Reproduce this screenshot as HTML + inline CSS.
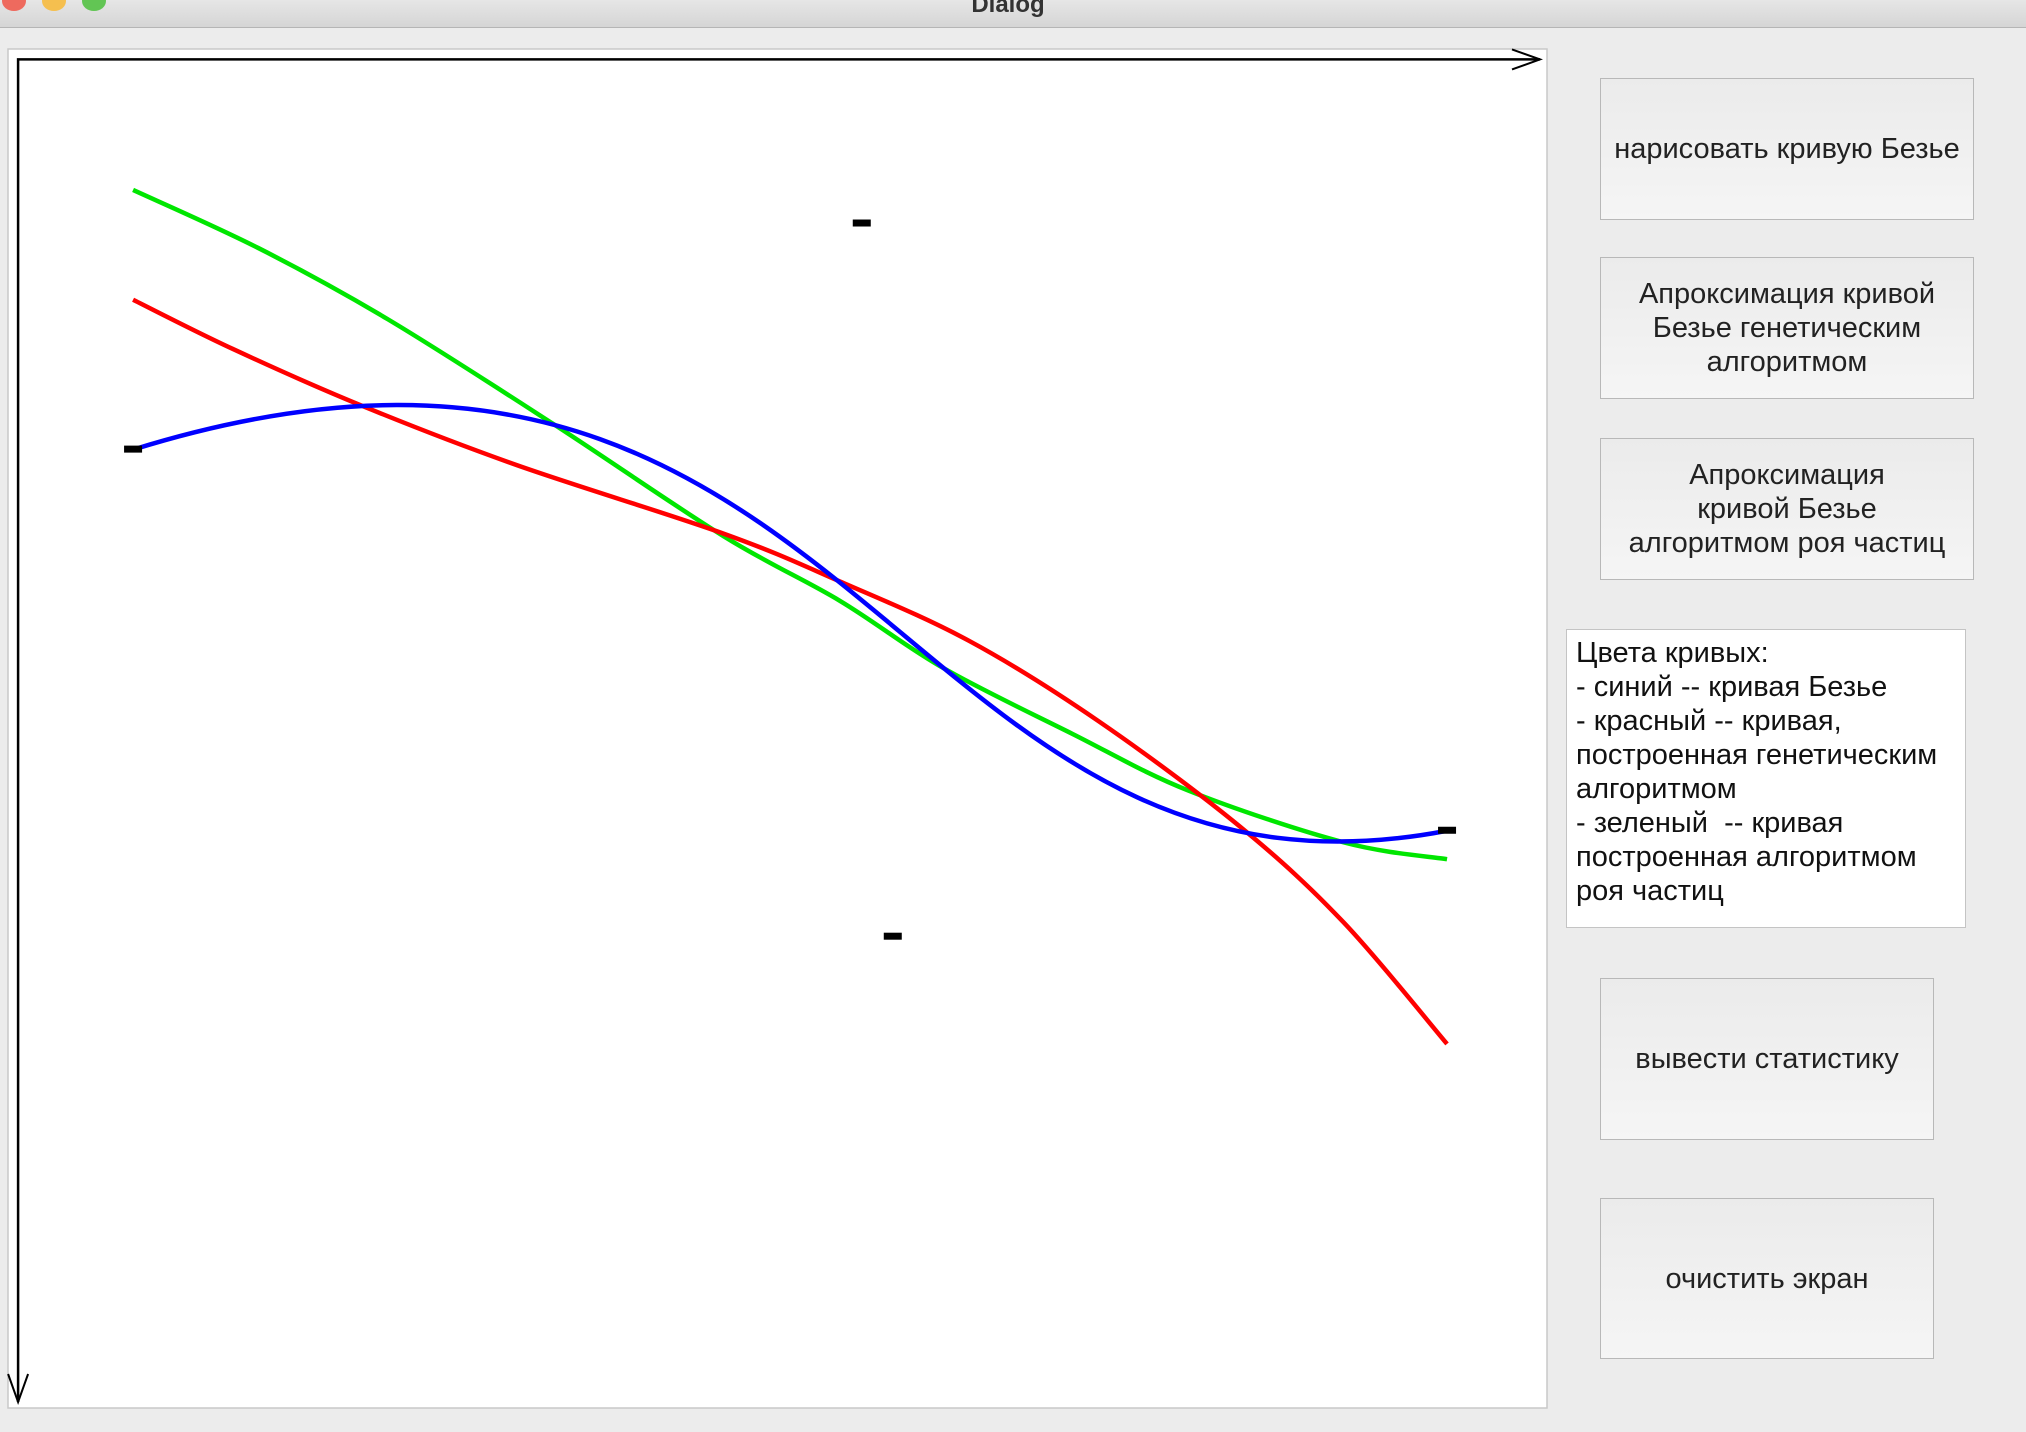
<!DOCTYPE html>
<html><head><meta charset="utf-8"><style>
body{margin:0;width:2026px;height:1432px;background:#ececec;position:relative;overflow:hidden;font-family:"Liberation Sans","DejaVu Sans",sans-serif}
.tb{position:absolute;left:0;top:0;width:2026px;height:27px;background:linear-gradient(#e6e6e6,#d5d5d5);border-bottom:1px solid #b5b5b5}
.tb .t{position:absolute;left:0;width:2016px;text-align:center;top:-9px;font-weight:bold;font-size:24px;color:#333}
.dot{position:absolute;top:-9px;width:24px;height:20px;border-radius:50%}
.btn{position:absolute;background:linear-gradient(#ebebeb,#f5f5f5);border:1px solid #b8b8b8;box-sizing:border-box;display:flex;align-items:center;justify-content:center;text-align:center;font-size:29px;line-height:34px;color:#222}
.info{position:absolute;left:1566px;top:629px;width:400px;height:299px;background:#fff;border:1px solid #c4c4c4;box-sizing:border-box;padding:6px 9px;font-size:29px;line-height:34px;color:#111;white-space:pre}
</style></head><body>
<div class="tb">
<div class="dot" style="left:2px;background:#ee6a5e"></div>
<div class="dot" style="left:42px;background:#f5bf4f"></div>
<div class="dot" style="left:82px;background:#62c554"></div>
<div class="t">Dialog</div></div>
<svg id="cv" style="position:absolute;left:0;top:0" width="1560" height="1432">
<rect x="8" y="49" width="1539" height="1359" fill="#fff" stroke="#c8c8c8" stroke-width="1.5"/>
<g id="g"></g>
</svg>
<div class="btn" style="left:1600px;top:78px;width:374px;height:142px">нарисовать кривую Безье</div>
<div class="btn" style="left:1600px;top:257px;width:374px;height:142px">Апроксимация кривой<br>Безье генетическим<br>алгоритмом</div>
<div class="btn" style="left:1600px;top:438px;width:374px;height:142px">Апроксимация<br>кривой Безье<br>алгоритмом роя частиц</div>
<div class="info">Цвета кривых:
- синий -- кривая Безье
- красный -- кривая,
построенная генетическим
алгоритмом
- зеленый  -- кривая
построенная алгоритмом
роя частиц</div>
<div class="btn" style="left:1600px;top:978px;width:334px;height:162px">вывести статистику</div>
<div class="btn" style="left:1600px;top:1198px;width:334px;height:161px">очистить экран</div>
<script>
const bezierX=[89,653,677,1106];
const bezierY=[302,127,679,597];
const redX=[89,166,266,386,546,636,736,836,946,1026,1106];
const redY=[186,224,268,314,367,404,450,512,594,668,762];
const greenX=[89,186,286,414,546,636,716,816,906,1026,1106];
const greenY=[101,146,201,282,369,419,471,522,566,606,619];
const S=1.292, OX=14, OY=46;
function sx(v){return (v+OX)*S;}
function sy(v){return (v+OY)*S;}
const NS='http://www.w3.org/2000/svg';
const g=document.getElementById('g');
function mk(t,a){const e=document.createElementNS(NS,t);for(const k in a)e.setAttribute(k,a[k]);g.appendChild(e);return e;}
const ax=mk('path',{d:`M${sx(0)},1402 L${sx(0)},${sy(0)} L1540,${sy(0)}`,fill:'none',stroke:'#000','stroke-width':2.5});


const ar1=mk('path',{d:`M1512,${sy(0)-10} L1540,${sy(0)} L1512,${sy(0)+10}`,fill:'none',stroke:'#000','stroke-width':2});


const ar2=mk('path',{d:`M${sx(0)-10},1374 L${sx(0)},1402 L${sx(0)+10},1374`,fill:'none',stroke:'#000','stroke-width':2});


function smooth(xs,ys,col,name){
  const P=xs.map((x,i)=>[sx(x),sy(ys[i])]);
  let d=`M${P[0][0]},${P[0][1]}`;
  for(let i=0;i<P.length-1;i++){
    const p0=P[Math.max(0,i-1)],p1=P[i],p2=P[i+1],p3=P[Math.min(P.length-1,i+2)];
    const c1=[p1[0]+(p2[0]-p0[0])/6,p1[1]+(p2[1]-p0[1])/6];
    const c2=[p2[0]-(p3[0]-p1[0])/6,p2[1]-(p3[1]-p1[1])/6];
    d+=` C${c1[0]},${c1[1]} ${c2[0]},${c2[1]} ${p2[0]},${p2[1]}`;
  }
  const e=mk('path',{d:d,fill:'none',stroke:col,'stroke-width':4.5});
  
  
}
smooth(greenX,greenY,'#00e600','pso-curve');
smooth(redX,redY,'#ff0000','genetic-curve');
const bz=mk('path',{d:`M${sx(bezierX[0])},${sy(bezierY[0])} C${sx(bezierX[1])},${sy(bezierY[1])} ${sx(bezierX[2])},${sy(bezierY[2])} ${sx(bezierX[3])},${sy(bezierY[3])}`,fill:'none',stroke:'#0000ff','stroke-width':4.5});


for(let i=0;i<4;i++){
  const r=mk('rect',{x:sx(bezierX[i])-9,y:sy(bezierY[i])-4,width:18,height:7,fill:'#000'});
  
  
}
</script>
</body></html>
